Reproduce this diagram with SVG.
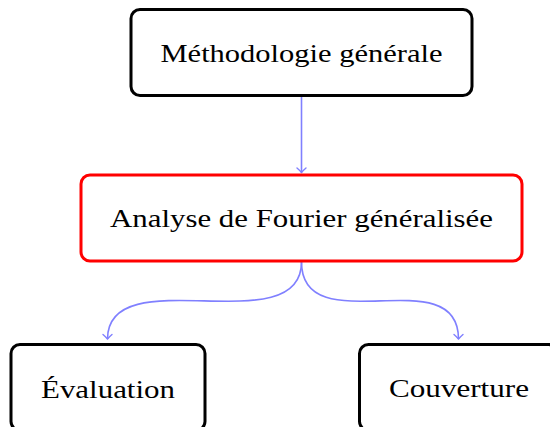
<svg xmlns="http://www.w3.org/2000/svg" width="550" height="427" viewBox="0 0 550 427">
<defs>
<style>
.box{fill:#ffffff;stroke:#000000;stroke-width:3}
.red{stroke:#ff0000}
.lbl{font-family:"Liberation Serif","Times New Roman",serif;font-size:26px;fill:#000000;text-anchor:middle}
.edge{fill:none;stroke:#8080ff;stroke-width:1.6}
</style>
<marker id="arr" markerWidth="12" markerHeight="12" refX="6" refY="6" orient="auto" markerUnits="userSpaceOnUse" viewBox="0 0 12 12">
<path d="M1.5,1.5 C3.5,3.8 5,5.2 6,6 C5,6.8 3.5,8.2 1.5,10.5" fill="none" stroke="#8080ff" stroke-width="1.4" stroke-linecap="round"/>
</marker>
</defs>
<rect width="550" height="427" fill="#ffffff"/>
<g id="edges">
<path class="edge" d="M301.5,96 L301.5,172.5" marker-end="url(#arr)"/>
<path class="edge" d="M301.5,262 C301.5,344 107.5,258 107.5,339" marker-end="url(#arr)"/>
<path class="edge" d="M301.5,262 C301.5,344 458.5,258 458.5,339" marker-end="url(#arr)"/>
</g>
<g id="methodologie">
<rect class="box" x="131" y="9.5" width="341" height="86" rx="9"/>
<text class="lbl" x="301.5" y="61.5" textLength="282" lengthAdjust="spacingAndGlyphs">Méthodologie générale</text>
</g>
<g id="analyse">
<rect class="box red" x="81" y="175" width="441" height="86" rx="9"/>
<text class="lbl" x="301.5" y="227" textLength="383" lengthAdjust="spacingAndGlyphs">Analyse de Fourier généralisée</text>
</g>
<g id="evaluation">
<rect class="box" x="11" y="344.5" width="194" height="86" rx="9"/>
<text class="lbl" x="108" y="397.5" textLength="134" lengthAdjust="spacingAndGlyphs">Évaluation</text>
</g>
<g id="couverture">
<rect class="box" x="359.5" y="344.5" width="198" height="86" rx="9"/>
<text class="lbl" x="459" y="397" textLength="140" lengthAdjust="spacingAndGlyphs">Couverture</text>
</g>
</svg>
